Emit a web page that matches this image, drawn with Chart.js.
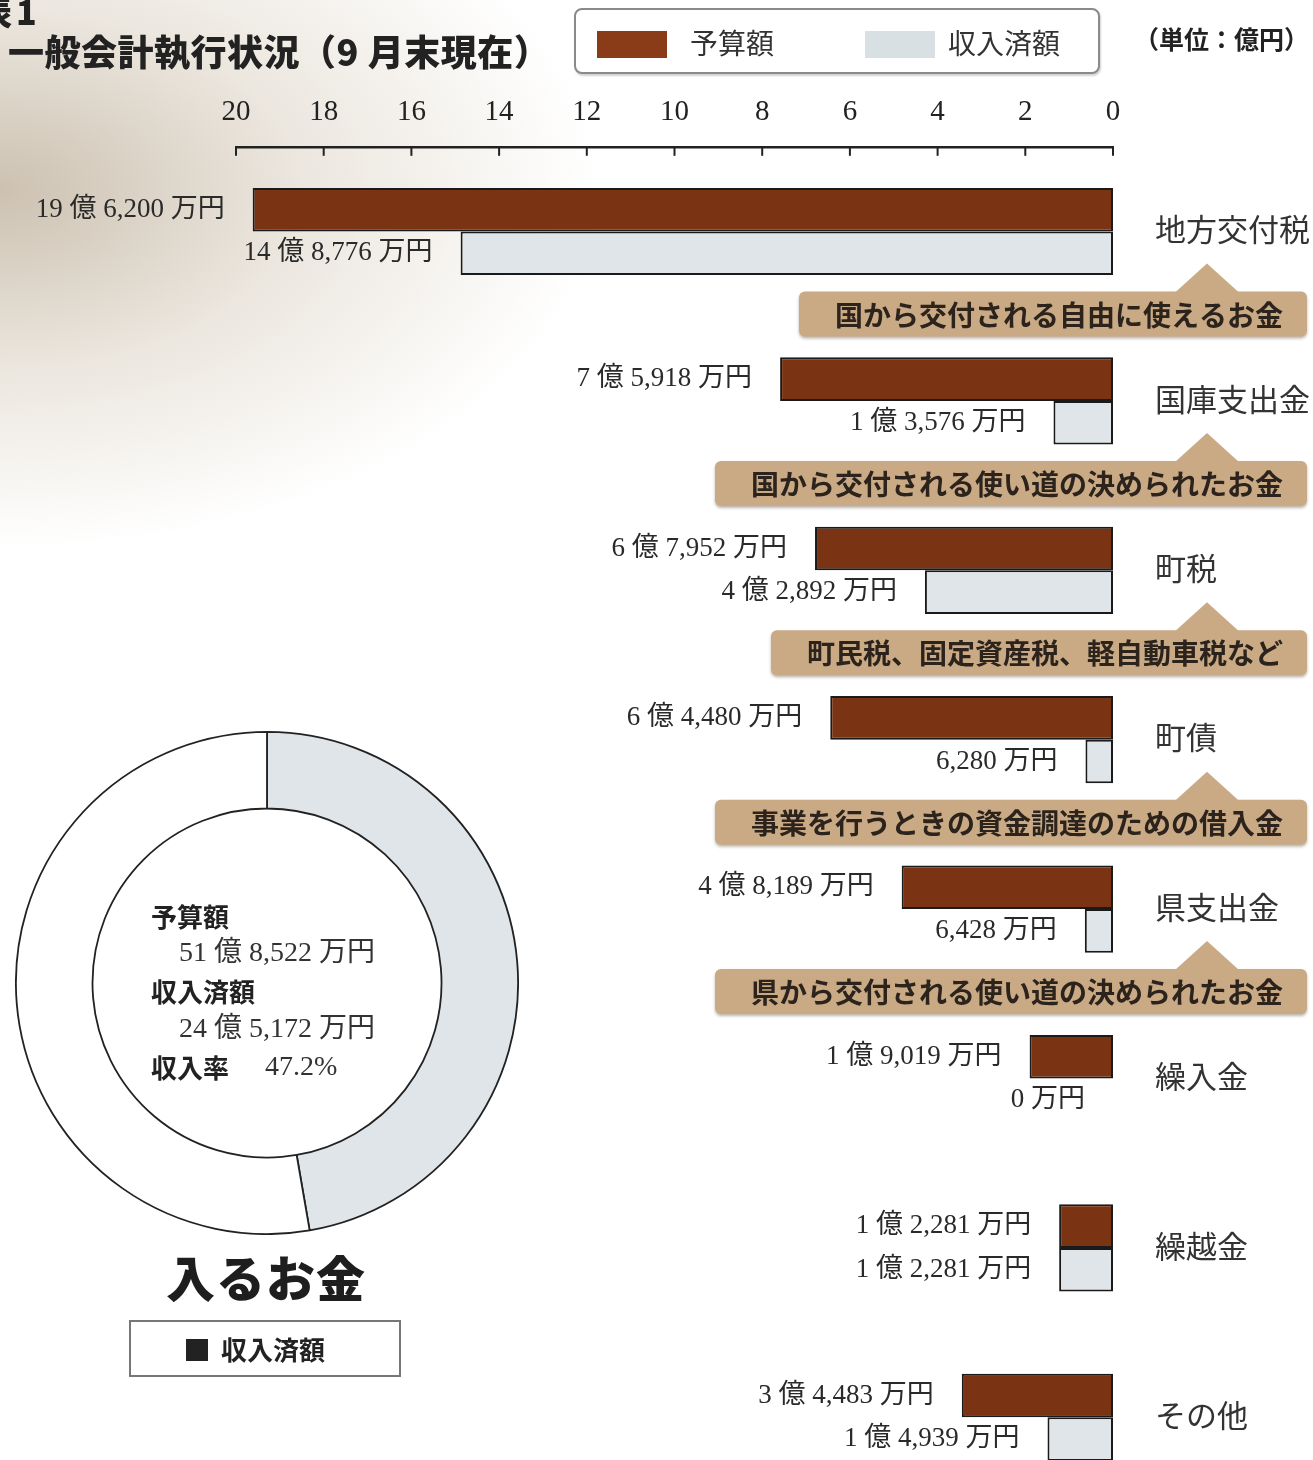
<!DOCTYPE html>
<html lang="ja">
<head>
<meta charset="utf-8">
<title>一般会計執行状況</title>
<script src="https://cdn.jsdelivr.net/npm/chart.js@4.4.1/dist/chart.umd.min.js"></script>
<style>
  html, body {
    margin: 0;
    width: 1313px;
    height: 1460px;
    overflow: hidden;
  }
  body {
    position: relative;
    background:
      radial-gradient(ellipse 600px 360px at 0px 190px, rgba(192, 178, 158, 0.8) 0%, rgba(216, 206, 190, 0.5) 50%, rgba(255, 255, 255, 0) 100%),
      #ffffff;
    font-family: "Noto Sans CJK JP", sans-serif;
    color: #222;
  }
  #barChart { position: absolute; left: 0; top: 0; }
  #donutChart { position: absolute; left: 15px; top: 731px; }
  .hyo {
    position: absolute; left: -22px; top: -14px;
    font-size: 34px; font-weight: 900; letter-spacing: 4px;
  }
  .title {
    position: absolute; left: 8px; top: 24px;
    font-size: 36px; font-weight: 900; letter-spacing: 0.5px;
    white-space: nowrap;
  }
  .unit {
    position: absolute; left: 1134px; top: 20px;
    font-size: 25px; font-weight: 700; white-space: nowrap;
  }
  .legend {
    position: absolute; left: 574px; top: 8px;
    width: 522px; height: 62px;
    border: 2px solid #8a8a8a; border-radius: 8px;
    background: #fff;
    box-shadow: 1px 2px 2px rgba(0, 0, 0, 0.18);
  }
  .legend .sw { position: absolute; top: 21px; width: 70px; height: 27px; }
  .legend .lb {
    position: absolute; top: 12px; font-size: 28px; font-weight: 400; color: #333;
  }
  .inlabel {
    position: absolute; left: 166px; top: 1240px;
    font-size: 49px; font-weight: 900; letter-spacing: 1px; color: #1e1e1e;
  }
  .donut-legend {
    position: absolute; left: 129px; top: 1320px;
    width: 268px; height: 53px;
    border: 2px solid #777; background: #fff;
  }
  .donut-legend .sq {
    position: absolute; left: 55px; top: 17px; width: 22px; height: 22px; background: #222;
  }
  .donut-legend .tx {
    position: absolute; left: 90px; top: 8px; font-size: 26px; font-weight: 700;
  }
</style>
</head>
<body>

<canvas id="barChart" width="1313" height="1512"></canvas>
<canvas id="donutChart" width="504" height="504"></canvas>

<div class="hyo">表1</div>
<div class="title">一般会計執行状況（9 月末現在）</div>

<div class="legend">
  <div class="sw" style="left:21px; background:#8a3c18;"></div>
  <div class="lb" style="left:114px;">予算額</div>
  <div class="sw" style="left:289px; background:#d9e0e3;"></div>
  <div class="lb" style="left:372px;">収入済額</div>
</div>
<div class="unit">（単位：億円）</div>

<div class="inlabel">入るお金</div>
<div class="donut-legend"><div class="sq"></div><div class="tx">収入済額</div></div>

<script>
// 歳入項目（単位：億円）
var categories = ['地方交付税', '国庫支出金', '町税', '町債', '県支出金', '繰入金', '繰越金', 'その他'];
var budget = [19.6200, 7.5918, 6.7952, 6.4480, 4.8189, 1.9019, 1.2281, 3.4483];
var received = [14.8776, 1.3576, 4.2892, 0.6280, 0.6428, 0, 1.2281, 1.4939];
var notes = [
  '国から交付される自由に使えるお金',
  '国から交付される使い道の決められたお金',
  '町民税、固定資産税、軽自動車税など',
  '事業を行うときの資金調達のための借入金',
  '県から交付される使い道の決められたお金',
  '', '', ''
];
var axisMax = 20;
var axisStep = 2;

var budgetColor = '#7a3414';
var receivedColor = '#dfe5e8';
var serifFont = '"Liberation Serif", "Noto Sans CJK JP", serif';
var sansFont = '"Noto Sans CJK JP", sans-serif';

// 億円 -> "19 億 6,200 万円"
function yenLabel(v) {
  var man = Math.round(v * 10000);
  var oku = Math.floor(man / 10000);
  var rest = (man % 10000).toLocaleString('en-US') + ' 万円';
  return oku > 0 ? oku + ' 億 ' + rest : rest;
}

function sum(arr) {
  return arr.reduce(function (a, b) { return a + b; }, 0);
}

// short tick marks hanging below the top axis line
var downTicks = {
  id: 'downTicks',
  afterDraw: function (chart) {
    var ctx = chart.ctx;
    var x = chart.scales.x;
    var top = chart.chartArea.top;
    ctx.save();
    ctx.strokeStyle = '#222';
    ctx.lineWidth = 2;
    x.ticks.forEach(function (t) {
      var px = x.getPixelForValue(t.value);
      ctx.beginPath();
      ctx.moveTo(px, top);
      ctx.lineTo(px, top + 9);
      ctx.stroke();
    });
    ctx.restore();
  }
};

// value labels, item names and the tan note balloons
var barDecor = {
  id: 'barDecor',
  afterDatasetsDraw: function (chart) {
    var ctx = chart.ctx;
    var y = chart.scales.y;
    ctx.save();

    // amounts left of each bar
    ctx.font = '27px ' + serifFont;
    ctx.fillStyle = '#2a2a2a';
    ctx.textAlign = 'right';
    ctx.textBaseline = 'middle';
    [budget, received].forEach(function (series, d) {
      var meta = chart.getDatasetMeta(d);
      meta.data.forEach(function (bar, i) {
        ctx.fillText(yenLabel(series[i]), bar.x - 28, bar.y);
      });
    });

    // item names on the right
    ctx.textAlign = 'left';
    ctx.font = '31px ' + sansFont;
    ctx.fillStyle = '#333';
    categories.forEach(function (name, i) {
      ctx.fillText(name, 1155, y.getPixelForValue(i) - 2);
    });

    // note balloons under the bars
    ctx.font = 'bold 28px ' + sansFont;
    notes.forEach(function (note, i) {
      if (!note) return;
      var cy = y.getPixelForValue(i);
      var top = cy + 60;
      var h = 45;
      var right = 1307;
      var w = ctx.measureText(note).width;
      var left = right - w - 60;
      var apex = 1207;

      ctx.save();
      ctx.shadowColor = 'rgba(60, 40, 20, 0.35)';
      ctx.shadowOffsetY = 2;
      ctx.shadowBlur = 3;
      ctx.fillStyle = '#c9aa85';
      ctx.beginPath();
      ctx.roundRect(left, top, right - left, h, 6);
      ctx.fill();
      ctx.shadowColor = 'transparent';
      ctx.beginPath();
      ctx.moveTo(apex - 32, top + 1);
      ctx.lineTo(apex, top - 28);
      ctx.lineTo(apex + 32, top + 1);
      ctx.closePath();
      ctx.fill();
      ctx.restore();

      ctx.fillStyle = '#2b231c';
      ctx.textAlign = 'center';
      ctx.fillText(note, left + (right - left) / 2 + 6, top + h / 2 + 1);
    });

    ctx.restore();
  }
};

var barCtx = document.getElementById('barChart').getContext('2d');
var barChart = new Chart(barCtx, {
  type: 'bar',
  data: {
    labels: categories,
    datasets: [
      {
        label: '予算額',
        data: budget,
        backgroundColor: budgetColor,
        borderColor: '#1a1a1a',
        borderWidth: 2,
        borderSkipped: false
      },
      {
        label: '収入済額',
        data: received,
        backgroundColor: receivedColor,
        borderColor: '#1a1a1a',
        borderWidth: function (c) { return c.raw === 0 ? 0 : 2; },
        borderSkipped: false
      }
    ]
  },
  options: {
    indexAxis: 'y',
    responsive: false,
    animation: false,
    categoryPercentage: 0.515,
    barPercentage: 1.0,
    layout: {
      padding: { left: 236, right: 200, top: 86, bottom: 10 }
    },
    plugins: {
      legend: { display: false },
      tooltip: { enabled: false }
    },
    scales: {
      x: {
        position: 'top',
        reverse: true,
        min: 0,
        max: axisMax,
        grid: { display: false },
        border: { display: true, color: '#222', width: 2.5 },
        ticks: {
          stepSize: axisStep,
          padding: 9,
          color: '#222',
          font: { family: serifFont, size: 29 },
          maxRotation: 0
        }
      },
      y: {
        display: false
      }
    }
  },
  plugins: [downTicks, barDecor]
});

// 合計（ドーナツ）
var totalBudget = sum(budget);
var totalReceived = sum(received);
var rate = Math.floor(totalReceived / totalBudget * 1000) / 10;

var donutText = {
  id: 'donutText',
  afterDraw: function (chart) {
    var ctx = chart.ctx;
    var arc = chart.getDatasetMeta(0).data[0];
    var cx = arc.x;
    var cy = arc.y;
    ctx.save();
    ctx.textAlign = 'left';
    ctx.textBaseline = 'middle';
    ctx.fillStyle = '#222';

    ctx.font = 'bold 26px ' + sansFont;
    ctx.fillText('予算額', cx - 116, cy - 66);
    ctx.fillText('収入済額', cx - 116, cy + 9);
    ctx.fillText('収入率', cx - 116, cy + 85);

    ctx.fillStyle = '#333';
    ctx.font = '28px ' + serifFont;
    ctx.fillText(yenLabel(totalBudget), cx - 88, cy - 29);
    ctx.fillText(yenLabel(totalReceived), cx - 88, cy + 47);
    ctx.fillText(rate.toFixed(1) + '%', cx - 2, cy + 85);
    ctx.restore();
  }
};

var donutCtx = document.getElementById('donutChart').getContext('2d');
var donutChart = new Chart(donutCtx, {
  type: 'doughnut',
  data: {
    labels: ['収入済額', '未収入'],
    datasets: [{
      data: [totalReceived, totalBudget - totalReceived],
      backgroundColor: [receivedColor, '#ffffff'],
      borderColor: '#222',
      borderWidth: 1.8
    }]
  },
  options: {
    responsive: false,
    animation: false,
    cutout: '69.5%',
    plugins: {
      legend: { display: false },
      tooltip: { enabled: false }
    }
  },
  plugins: [donutText]
});
</script>
</body>
</html>
